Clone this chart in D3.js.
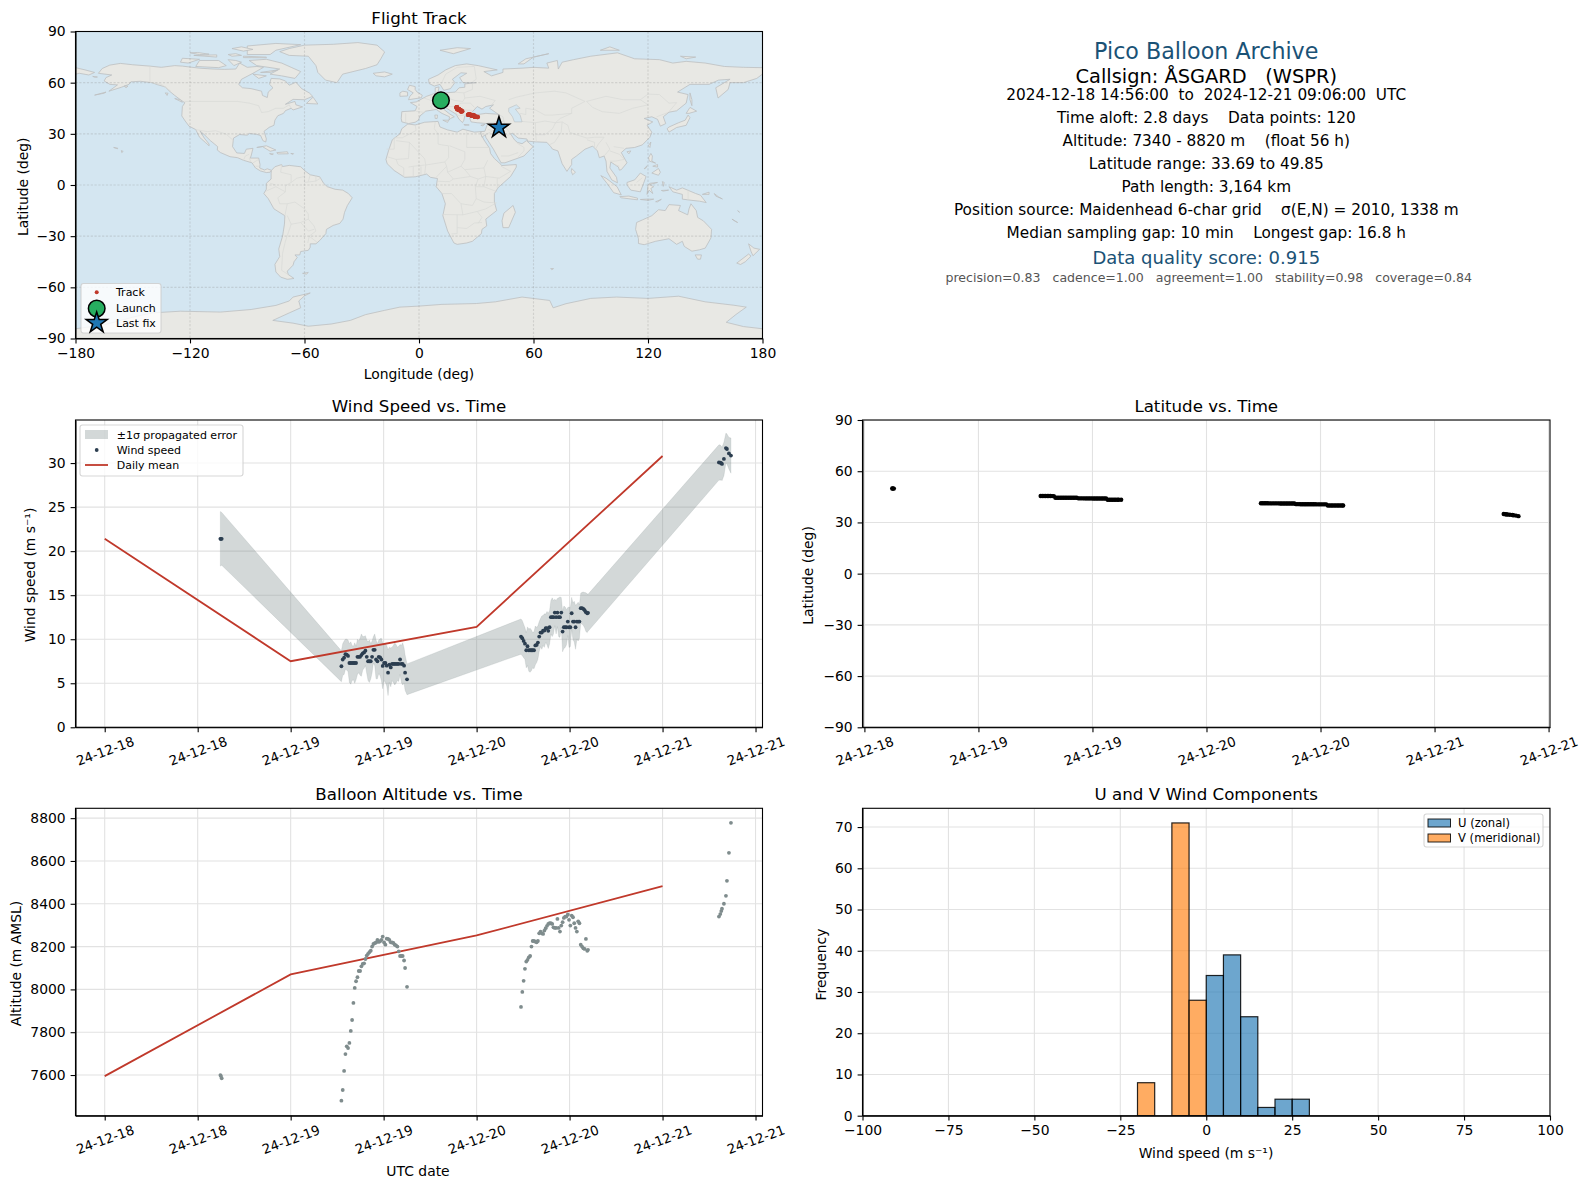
<!DOCTYPE html>
<html><head><meta charset="utf-8">
<script src="https://cdn.jsdelivr.net/npm/d3@7/dist/d3.min.js"></script>
<style>
html,body{margin:0;padding:0;background:#fff}
svg{display:block}
text{font-family:"DejaVu Sans",sans-serif}
</style></head><body><div id="chart"></div>
<script>
// ---------- flight data ----------
const hoursSinceStart = [
 14.93,15.00,15.10,
 30.55,30.72,30.90,31.07,31.24,31.41,31.58,31.76,31.93,32.10,
 32.27,32.44,32.62,32.79,32.96,33.13,33.30,33.48,33.65,33.82,
 33.99,34.16,34.34,34.51,34.68,34.85,35.02,35.20,35.37,35.54,
 35.71,35.88,36.06,36.23,36.40,36.57,36.74,36.92,37.09,37.26,
 37.43,37.60,37.78,37.95,38.12,38.29,38.46,38.64,38.77,39.02,
 53.73,53.90,54.07,54.24,54.41,54.57,54.74,54.91,55.08,55.24,
 55.41,55.58,55.75,55.91,56.08,56.25,56.42,56.58,56.75,56.92,
 57.09,57.25,57.42,57.59,57.76,57.92,58.09,58.26,58.43,58.59,
 58.76,58.93,59.10,59.26,59.43,59.60,59.77,59.93,60.10,60.27,
 60.44,60.60,60.77,60.94,61.11,61.27,61.44,61.61,61.78,61.94,
 62.11,62.28,62.38,
 79.28,79.45,79.58,79.67,79.92,80.18,80.31,80.57,80.83];
const windSpeed = [
 21.4,21.4,21.4,
 6.93,7.7,7.9,8.3,8.25,8.1,7.3,7.3,7.3,7.3,
 7.3,7.3,8.0,8.0,8.0,8.2,8.4,8.5,8.7,8.0,
 7.5,7.5,7.5,8.0,8.8,8.8,7.7,7.5,8.0,7.95,
 7.7,6.97,7.3,7.3,7.0,6.2,7.1,6.8,7.2,7.2,
 7.2,7.2,7.2,7.2,7.7,7.2,7.2,7.0,6.2,5.45,
 10.3,10.11,9.81,9.5,8.75,9.2,8.75,8.75,8.75,8.75,
 8.75,9.3,9.35,9.62,10.3,10.75,10.75,10.98,10.98,11.25,
 11.25,10.95,11.36,12.5,12.5,12.5,13.03,12.5,13.03,12.5,
 12.5,13.03,10.87,11.36,11.36,11.36,12.0,11.36,11.36,12.95,
 12.0,12.0,11.36,12.0,12.0,12.0,13.52,13.52,13.45,13.3,
 13.07,12.95,13.0,
 30.07,30.05,30.0,29.9,30.47,31.7,31.6,31.1,30.85];
const windSigma = [
 3.1,3.05,3.0,
 1.75,1.8,1.9,1.7,1.75,1.8,2.2,2.4,2.0,1.9,
 2.3,1.9,2.0,1.8,2.1,2.4,1.9,1.8,1.7,1.9,
 2.2,2.4,2.0,1.8,1.5,1.8,2.2,2.0,1.9,2.1,
 2.4,2.6,2.0,2.2,2.3,2.6,2.0,2.2,1.9,2.1,
 2.4,2.2,1.9,2.0,1.7,2.1,2.4,2.0,2.0,1.75,
 2.0,2.0,1.9,1.8,2.0,2.2,2.4,2.5,2.3,2.0,
 2.1,2.2,2.0,1.9,1.7,1.6,1.9,1.7,1.9,1.6,
 1.9,2.0,1.9,1.9,2.2,1.9,1.5,1.9,1.6,2.2,
 2.3,1.7,2.3,2.4,2.3,2.0,1.6,2.3,2.2,1.8,
 2.1,2.3,2.5,2.0,2.2,1.9,1.7,1.8,1.9,2.0,
 2.2,2.2,2.1,
 2.0,2.0,1.9,1.9,1.9,1.7,1.7,1.8,2.0];
const altitudeM = [
 7600,7595,7585,
 7480,7530,7619,7698,7734,7726,7750,7806,7857,7937,
 8007,8038,8057,8086,8086,8108,8119,8122,8142,8158,
 8166,8174,8181,8200,8212,8216,8219,8231,8222,8225,
 8231,8247,8219,8209,8237,8236,8231,8220,8219,8217,
 8209,8205,8200,8178,8156,8156,8156,8135,8100,8012,
 7918,7988,8040,8096,8130,8138,8150,8156,8200,8226,
 8226,8223,8220,8226,8262,8270,8262,8259,8275,8286,
 8297,8306,8309,8309,8306,8290,8287,8287,8329,8287,
 8270,8298,8314,8334,8340,8340,8350,8325,8298,8345,
 8337,8309,8287,8270,8318,8309,8209,8200,8192,8189,
 8236,8180,8185,
 8340,8352,8366,8377,8400,8437,8507,8638,8778];
const latitudeDeg = [
 49.85,49.85,49.81,
 45.46,45.46,45.46,45.44,45.44,45.44,45.44,45.42,45.42,44.5,
 44.5,44.46,44.46,44.46,44.44,44.44,44.44,44.44,44.42,44.42,
 44.42,44.42,44.42,44.1,44.1,44.1,44.1,44.08,44.08,44.08,
 44.08,44.08,44.06,44.06,44.06,44.06,44.06,44.04,44.04,44.04,
 44.04,43.3,43.3,43.3,43.27,43.27,43.27,43.25,43.25,43.25,
 41.21,41.21,41.21,41.21,41.21,41.17,41.17,41.17,41.17,41.17,
 41.17,41.17,41.13,41.13,41.13,41.13,41.13,41.13,41.13,41.08,
 41.08,41.08,40.71,40.71,40.71,40.67,40.67,40.67,40.67,40.67,
 40.63,40.63,40.63,40.63,40.63,40.58,40.58,40.58,40.58,40.58,
 40.58,40.58,39.96,39.96,39.96,39.96,39.96,39.92,39.92,39.92,
 39.92,39.88,39.88,
 34.92,34.83,34.71,34.63,34.5,34.33,34.21,34.0,33.69];
const longitudeDeg = [
 11.46,11.5,11.54,
 19.62,19.62,19.71,19.79,19.79,19.88,19.88,19.96,20.04,20.04,
 20.13,20.13,20.21,20.29,20.29,20.38,20.46,20.46,20.54,20.63,
 20.63,20.71,20.79,20.79,20.88,20.96,20.96,21.04,21.13,21.13,
 21.21,21.29,21.29,21.38,21.46,21.46,21.54,21.63,21.63,21.71,
 21.79,21.79,21.88,21.96,21.96,22.04,22.13,22.29,22.46,22.71,
 25.71,25.79,25.88,25.96,26.04,26.13,26.21,26.29,26.38,26.46,
 26.54,26.63,26.71,26.79,26.88,26.96,27.04,27.13,27.21,27.29,
 27.38,27.46,27.54,27.63,27.71,27.79,27.88,27.96,28.04,28.13,
 28.21,28.29,28.38,28.46,28.54,28.63,28.71,28.79,28.88,28.96,
 29.04,29.13,29.21,29.29,29.38,29.46,29.54,29.71,29.88,30.04,
 30.29,30.54,30.88,
 39.9,40.1,40.4,40.6,40.9,41.1,41.4,41.7,41.9];
const launchLonLat = [11.5, 49.6];
const lastFixLonLat = [41.9, 33.69];

const dailyHours = [0, 24, 48, 72];
const dailyMeanWind = [21.4, 7.5, 11.4, 30.8];
const dailyMeanAltitude = [7595, 8070, 8252, 8483];

const histBinStarts = [-20, -15, -10, -5, 0, 5, 10, 15, 20, 25];
const histBinWidth = 5;
const histU = [0, 0, 0, 0, 34, 39, 24, 2, 4, 4];
const histV = [8, 0, 71, 28, 0, 0, 0, 0, 0, 0];

// ---------- tick labels ----------
const timeTicksLeft = [0, 12, 24, 36, 48, 60, 72, 84];
const timeLabelsLeft = ["24-12-18","24-12-18","24-12-19","24-12-19","24-12-20","24-12-20","24-12-21","24-12-21"];
const timeTicksRight = [12, 24, 36, 48, 60, 72, 84];
const timeLabelsRight = ["24-12-18","24-12-19","24-12-19","24-12-20","24-12-20","24-12-21","24-12-21"];
const lonTicks = [-180, -120, -60, 0, 60, 120, 180];
const latTicks = [-90, -60, -30, 0, 30, 60, 90];
const windTicks = [0, 5, 10, 15, 20, 25, 30];
const altTicks = [7600, 7800, 8000, 8200, 8400, 8600, 8800];
const histXTicks = [-100, -75, -50, -25, 0, 25, 50, 75, 100];
const histYTicks = [0, 10, 20, 30, 40, 50, 60, 70];

// ---------- text ----------
const infoLines = [
 "Pico Balloon Archive",
 "Callsign: ÅSGARD   (WSPR)",
 "2024-12-18 14:56:00  to  2024-12-21 09:06:00  UTC",
 "Time aloft: 2.8 days    Data points: 120",
 "Altitude: 7340 - 8820 m    (float 56 h)",
 "Latitude range: 33.69 to 49.85",
 "Path length: 3,164 km",
 "Position source: Maidenhead 6-char grid    σ(E,N) = 2010, 1338 m",
 "Median sampling gap: 10 min    Longest gap: 16.8 h",
 "Data quality score: 0.915",
 "precision=0.83   cadence=1.00   agreement=1.00   stability=0.98   coverage=0.84"
];

// ---------- world outline, lon/lat ----------
const landPolygons = [
 // North America
 [[-168,65.5],[-166,68.3],[-162,70.3],[-156.5,71.3],[-150,70.5],[-141,69.7],[-135,69],[-128,70],[-124,69.7],[-115,68.5],[-108,68],[-102,67.8],[-96,68],[-94,71.5],[-90,69],[-85,69.5],[-81.5,69],[-87,65.5],[-93,62],[-94.5,59],[-92.5,57],[-88,56.5],[-82.5,55],[-82,52.5],[-79.5,51.3],[-79,54.5],[-76.5,57],[-78.3,59],[-77.5,62.5],[-73,62.2],[-70,61],[-68,58.5],[-64.5,60.3],[-61.5,56.5],[-57.5,54],[-55.7,52],[-60,50],[-66,50.2],[-70,47.3],[-65,49],[-64.5,47],[-61,45.8],[-66,44],[-67,45],[-70,43.6],[-71,42],[-74,40.6],[-75.5,38],[-76,35],[-78.5,33.8],[-81.2,31.5],[-80,27],[-80.3,25.2],[-81.8,26],[-83,29],[-85,29.7],[-89,30.2],[-90,29.2],[-94,29.6],[-97.2,27.5],[-97.7,22.5],[-95.5,18.8],[-91.5,18.5],[-90.5,21],[-87,21.5],[-88,17],[-88.5,15.8],[-84,15.8],[-83.3,12],[-83.5,10],[-81,8.8],[-79.5,9.5],[-77.3,8.6],[-78,7.5],[-80,7.3],[-83,8.2],[-85.7,10],[-87.5,13],[-92,14.5],[-95,16],[-99,16.6],[-104,19],[-105.7,20.5],[-105.5,22.5],[-109.3,26],[-112.5,29.5],[-114.8,31.7],[-112.5,27.5],[-110,24],[-110,23],[-112,25],[-115,28],[-117,32.5],[-120.5,34.5],[-122.5,37.5],[-124.3,40.5],[-124,46],[-122.7,48.2],[-125,50],[-128,52.5],[-130.5,54.8],[-133,57.5],[-137,58.8],[-140,60],[-146,60.8],[-151,60.5],[-152,59],[-156,57.3],[-162.5,55],[-158,58.7],[-162,59],[-165,61],[-164,63],[-161,64.5]],
 // Greenland
 [[-73,78.2],[-68,80],[-60,82],[-45,82.5],[-32,83.5],[-22,82],[-18,78],[-20,74],[-22,70.5],[-28,68.3],[-40,65],[-43,60],[-49,61.5],[-53,66],[-54,70],[-58,75.5],[-68,76]],
 // Arctic Canada
 [[-80,73.7],[-72,71.5],[-67,69],[-62,66.5],[-65,62.5],[-72,64],[-78,65],[-73,68],[-85,70],[-89,73]],
 [[-117,69.5],[-105,68.8],[-101,70],[-105,73],[-115,73]],
 [[-125,72],[-124,74.3],[-115,73.7],[-121,71.5]],
 [[-90,76.5],[-78,76.5],[-75,79],[-62,82.3],[-75,83],[-90,81.5]],
 [[-92,75.5],[-80,75],[-80,74.6],[-92,74.7]],
 [[-118,76],[-106,75],[-106,76.3]],
 [[-87,65],[-80,64],[-84,62.5]],
 [[-100,73.5],[-96,73],[-93,72],[-97,70]],
 [[-98,80],[-93,81],[-87,79.5],[-92,78.5]],
 [[-120,77.5],[-115,76.5],[-110,76.7],[-116,77.7]],
 [[-100,76.5],[-96,77],[-93,76],[-98,75.5]],
 [[-83,66],[-74,67.5],[-78,66]],
 [[-59,47.8],[-55.5,51.5],[-53,47.5]],
 [[-128,50.7],[-124,48.5],[-125,50]],
 [[-133,54],[-131.5,53.8],[-132,52.5]],
 // Caribbean, Pacific
 [[-85,22],[-80,23],[-75,20.5],[-78,19.8],[-82,22.5]],
 [[-74.5,19],[-69,19.5],[-68.5,18.3],[-74,18.2]],
 [[-78.3,18.4],[-76.3,18.2],[-77,17.8]],
 [[-67.2,18.5],[-65.7,18.4],[-66,18]],
 [[-156,20.2],[-155,19.7],[-155.8,19]],
 [[-160,22],[-157.7,21.5],[-158,21.3]],
 [[-170,52.7],[-164,54.5],[-165,53.8]],
 [[-154.5,58],[-152.5,58],[-153.5,57]],
 [[-171,63.7],[-168.5,63.3],[-170,63.2]],
 // South America
 [[-77.3,8.6],[-75.5,10.7],[-72,12],[-71.5,10.8],[-68,11.5],[-62,10.7],[-60,8.5],[-57,6],[-52,4.8],[-50,1],[-48,-1],[-44,-2.5],[-40,-3],[-37,-5],[-35,-7.5],[-37.5,-12],[-39,-16],[-39.8,-20],[-41.5,-22.5],[-45,-23.7],[-48.5,-26],[-48.8,-28.5],[-52,-32.5],[-54,-34.5],[-57,-34.5],[-57,-36.5],[-58,-38.3],[-62,-39],[-62.5,-41],[-65,-41],[-63.8,-42.5],[-65.5,-45],[-66,-47],[-69,-50.5],[-68.5,-52.5],[-65.5,-54.8],[-69,-55.3],[-72.5,-54],[-75,-51],[-75.5,-46.5],[-73,-42],[-73.5,-37.5],[-71.5,-30],[-70.5,-23],[-70.3,-18],[-76,-14],[-79,-8],[-81.3,-5],[-80,-2.5],[-80,1],[-77.5,3.5],[-77.5,7]],
 [[-61,-51.8],[-58,-51.3],[-59,-52.3]],
 // Africa
 [[-5.8,35.8],[-2,35.2],[3,36.8],[10,37.3],[11,34],[15,32.3],[20,31],[23,32.7],[29,31],[32.5,31.3],[32.5,30],[34,26.5],[37,21.5],[37.5,18.5],[39.5,15.5],[43,12],[43.3,11.4],[51,12],[51,10.5],[48,5],[41.5,-1.5],[39.5,-5],[39.5,-10],[40.7,-15],[35,-20],[35.5,-24],[33,-26],[32.7,-28.5],[28,-33],[25,-34],[20,-34.8],[18.3,-34],[15,-27],[12.5,-18],[13.8,-11],[12,-5],[9,-1],[9.7,3.8],[6,4.5],[4,6.4],[-2,4.8],[-7.5,4.5],[-13,8.5],[-16.7,12.5],[-17.3,15],[-16,20],[-14,26.5],[-10,30],[-9,33]],
 // Eurasia
 [[-9,37],[-9.3,39],[-9,43],[-2,43.5],[-1,46],[-4.5,48.3],[-1.5,48.7],[1.5,50.5],[4,52],[8.5,53.8],[8.5,57],[10.5,57.5],[10,54.5],[14,54],[19,54.5],[21,57],[24,57.3],[24,59.3],[30,60],[23,60],[21.3,63],[25,65.5],[22,65.8],[17.5,62],[18.8,60],[16.5,56.5],[13,55.5],[11,59],[8,58],[5.3,59.5],[5,62],[10,64.5],[14,67.5],[19,70],[25,71],[31,70],[41,67.5],[34,66.5],[38,64],[44,66],[44,68],[54,68.5],[60,69],[68,68.5],[67,71.5],[72.5,73],[73,68],[75,72],[81,73.5],[90,75.5],[104,77.5],[113,74],[126,73.5],[133,71.5],[140,72.5],[150,71.5],[160,69.5],[170,69],[180,68.8],[180,65],[177,62.5],[170,60],[163,60],[162,56],[156.7,51],[155.5,57],[163,62],[157,61.5],[152,59],[142,59],[135.5,54.5],[141,53],[140,48],[135,43.5],[131,42.7],[128,40],[129.3,36],[126.5,34.5],[125,38.5],[122,40],[118,39],[122.5,37],[119.5,35],[122,31],[121,28],[117,23.5],[113,22],[108.5,21.5],[106,19],[109,13],[106,9],[105,8.7],[104.5,10.5],[100.5,13.5],[100,10],[103.5,4.5],[104,1.3],[101,3],[98.5,8],[98,14],[97,17],[94.5,16],[93.5,20],[91,22.8],[87,21],[82.5,17],[80,15],[80,12],[77.5,8],[75,12.5],[72.8,20],[70,21],[69,22.5],[67,25],[61,25.3],[57,25.7],[56.5,27],[52,27.5],[49,30.3],[48,30],[50,26.5],[51.5,25],[54,24.2],[56.3,26],[59.8,22.5],[55,17],[45,13],[43,13],[39,21],[35,28],[34.8,29.5],[33,28],[32.5,30],[32.5,31.3],[34.5,31.5],[36,36],[30.5,36.5],[27.3,37],[26.5,39.5],[29,41],[35,42],[41.5,41.5],[37,45],[39,47],[35,46],[33,44.5],[30.5,46],[28,43],[29,41.2],[26,40.8],[24,40.5],[23.5,38],[22.8,36.6],[21,38.5],[19.5,41.5],[14,45.3],[12.3,45],[16,41.7],[18.5,40],[16.5,39],[15.7,38],[16,40],[12,42],[9,44.3],[3.5,43.3],[0.5,40.5],[-0.3,38],[-2,36.8],[-5.5,36]],
 [[-180,68.8],[-175,67.5],[-170,66],[-173,64.5],[-178,65.5],[-180,65]],
 // Europe and Asia islands
 [[-5.5,50],[1.3,51.2],[1.7,52.7],[-1,54.5],[-2,56],[-2,57.7],[-5,58.5],[-6,56],[-3,54],[-4.8,52]],
 [[-10,52],[-6,52.2],[-6,54.5],[-8.5,55],[-10,54]],
 [[-24,65.5],[-18,66.3],[-14,65],[-18,63.4],[-22.5,64]],
 [[11,79],[20,80.5],[27,80],[18,77]],
 [[52,71],[56,74],[68,77],[60,75],[55,71]],
 [[95,79],[105,79],[100,81]],
 [[137,75.5],[145,75],[140,74]],
 [[12.5,38],[15.5,38],[15,36.7]],
 [[8.3,41],[9.7,41],[9.5,39],[8.5,39]],
 [[23.5,35.5],[26.3,35.2],[24,35]],
 [[32.4,35],[34.5,35.6],[33.5,34.7]],
 [[142,54],[143,50],[143,46.5],[142,50]],
 [[130,33],[131,31],[135,33.7],[140,35],[142,39.5],[141,41],[139.5,38],[136,36.5],[131,34]],
 [[140,42],[142,45.5],[145.5,43.3],[141.5,42]],
 [[120.2,23],[121.5,25.2],[121,22]],
 [[109,19.5],[111,20],[110,18.3]],
 [[120.3,16],[121.5,18.5],[122.3,17],[122,14],[124,12.8],[120.7,14]],
 [[122,7],[125.5,9.7],[126.5,7.5],[125.5,5.7]],
 [[118,9.5],[119.5,11.3],[119,10]],
 [[122.5,11],[125,12],[125,10.5]],
 [[80,9.7],[82,7.5],[80.5,6],[79.8,8]],
 [[109,1.5],[113,3],[116,7],[119,5],[117.7,1],[116,-4],[111,-3],[109,0]],
 [[95.3,5.5],[98,4],[103.8,-1],[106,-5.8],[102,-4.5],[98.5,1]],
 [[105.2,-6.8],[110,-6.5],[114.5,-7.7],[114.5,-8.7],[106,-7.5]],
 [[119.5,-5.5],[120,0],[121,1],[125,1.5],[120.8,0.2],[123,-1],[121.5,-2],[122.5,-5],[120.5,-3]],
 [[116,-8.5],[119,-8.3],[123,-8.3],[120,-9]],
 [[124,-9.8],[127,-8.4],[125,-9.9]],
 [[127.5,2],[128.5,1.5],[128,-0.8]],
 [[127,-3.2],[130.8,-3],[128,-3.6]],
 [[131,-1],[135,-3],[138,-1.7],[145,-5],[147.5,-6],[150.5,-10.3],[147,-9.5],[143,-9],[138,-8.3],[138,-5.5],[133,-4]],
 [[148.5,-5.5],[152,-4.2],[152,-5.5]],
 [[154.7,-5],[157,-7],[159,-8.2],[155.5,-6.5]],
 [[164,-20],[167,-22],[166,-21.5]],
 [[167,-15],[168,-16],[167.3,-15.5]],
 // Indian Ocean, Australasia
 [[49.3,-12],[50.5,-16],[47,-25],[44,-25],[43.5,-21],[44.5,-16.5]],
 [[69,-49],[70.5,-49],[69.6,-49.7]],
 [[114,-22],[113.5,-26],[115,-31.5],[115,-34.3],[118,-35],[124,-33],[131,-31.5],[135,-34.8],[138,-33],[139,-36],[143,-38.8],[147,-38],[150,-37],[153,-31],[153.3,-26],[149,-21],[146,-19],[145.3,-15],[142.5,-11],[141.5,-14],[140.8,-17.5],[136,-15],[137,-12],[131,-11.5],[129,-15],[125.5,-14.5],[122,-18],[117,-20.5]],
 [[144.7,-41],[148,-41],[147.5,-43.5],[146,-43.5]],
 [[172.7,-34.5],[175.5,-37],[178.5,-37.7],[175,-41.5],[174,-39]],
 [[172.7,-40.5],[174,-41.7],[171,-45],[168.5,-46.6],[166.5,-45.8]],
 // Antarctica
 [[-180,-84.3],[-165,-82],[-150,-77.5],[-140,-75],[-125,-74],[-104,-74.5],[-88,-73],[-75,-70.6],[-68,-68],[-66,-65.7],[-57,-63.3],[-60,-65],[-63,-68],[-62,-72],[-68,-75],[-76.6,-79.4],[-66,-81],[-58,-82.8],[-46,-81.5],[-36,-79.4],[-28,-76],[-18,-73.5],[-10,-71.6],[0,-71],[12,-70],[30,-69.5],[40,-68.5],[54,-65.7],[68.5,-67.7],[70.3,-72],[77,-69.6],[90,-66.5],[103.5,-65.7],[120,-66.5],[136,-65.2],[150,-68.5],[165,-70.5],[171.5,-71.6],[166,-76],[161,-80.5],[170,-83],[180,-84.3],[180,-90],[-180,-90]]
];
const inlandSeas = [
 [[47,45],[51,47],[53,45],[50.5,44.5],[53,41],[54,37],[50,37],[49,40],[47,43]]
];
const borderLines = [
 [[-141,69.7],[-141,60.3],[-135,59],[-130,55]],
 [[-123,49],[-95,49],[-89,48],[-84,46.5],[-82.5,42.5],[-79,43],[-75,45],[-71,45],[-68,47],[-67,45]],
 [[-117,32.5],[-111,31.3],[-106.5,31.8],[-101,29.8],[-97.2,26]],
 [[-92,14.5],[-91,17],[-89,18]],[[-89,15.8],[-88,13.3]],[[-84,15],[-87,13]],[[-85.7,11],[-83.5,11]],[[-83,8.2],[-82.7,9.5]],
 [[-72,12],[-72.5,7.5],[-67,6],[-67,1.5]],
 [[-51.7,4],[-54,2.3],[-60,1.5],[-60,5],[-64,4],[-67,1.5],[-70,-0.5],[-70,-4],[-74,-7.5],[-73,-11],[-69,-11],[-65,-10],[-60,-14],[-58,-17],[-58,-20],[-55,-24],[-54,-27],[-57.5,-30],[-53.5,-33.5]],
 [[-60,8],[-60,5]],[[-57,6],[-58,2]],[[-54,5.5],[-54,2.3]],
 [[-80,-3.5],[-75,-1],[-70,-4]],[[-78,1],[-75,0]],
 [[-70.3,-18],[-69,-11]],[[-69,-18],[-67,-23],[-70,-33],[-71.5,-40],[-72,-50],[-68.5,-52.5]],
 [[-67,-23],[-62,-22],[-58,-20]],[[-62,-22],[-58,-27],[-55,-26]],[[-58.3,-34],[-57.5,-30]],
 [[-2,35],[-1.5,32],[-8.7,27.7],[-13,27.7]],[[8.5,37],[8,33],[10,30]],[[10,30],[10,24],[12,23.5]],
 [[25,31.5],[25,22]],[[25,22],[37,22]],[[16,23],[24,19.5],[24,15]],
 [[12,23.5],[15.5,23],[15.5,16],[13.5,13.5],[3.5,11.7],[3,15.3],[-5,25],[-12,26]],
 [[-17,21],[-13,21],[-13,27.7]],[[-16.5,16.5],[-12,15],[-5.5,15.5],[-5,25]],[[-12,15],[-11,12],[-8,10],[-8,4.6]],
 [[-5.5,10.5],[-3,11],[3,11.7]],[[-3,11],[-3,5]],[[1,6],[1,11]],
 [[3,6.3],[3.5,11.7]],[[13.5,13.5],[14.5,11],[9,4.5]],
 [[24,15],[22,11],[24,9]],[[24,9],[34,10],[35,5],[31,3.5],[27,5],[24,9]],
 [[36,14.5],[34,10]],[[35,5],[42,4],[48,8],[43,11]],
 [[12,-5],[17,-5],[22,-11],[28,-12],[30,-8],[29.5,-1],[31,3.5]],
 [[18,3.5],[27,5]],[[18,3.5],[16,2],[14,2],[9.7,2.2]],[[15,7.5],[18,3.5]],[[14.5,11],[15,7.5]],[[22,11],[15,7.5]],
 [[12,-17.3],[23,-17.5],[22,-11]],[[20,-17.5],[20,-28.5],[17,-28.7]],[[20,-25],[25,-25.5],[29,-22.3],[33,-22]],
 [[31,-22.5],[33,-19],[30.5,-15.5],[35,-14],[40.5,-10.5]],[[29.5,-1],[34,-1],[41,-4]],[[30,-8],[34,-10],[40.5,-10.5]],
 [[34,-1],[35,5]],[[41,-2],[41,4]],[[23,-17.5],[30.5,-15.5]],
 [[-1.7,43.3],[3,42.5]],[[-7,42],[-7,37]],[[2.5,51],[8,49],[7.5,47.5],[6,46],[7.5,43.8]],
 [[7,53.5],[6,51],[8,49],[7.5,47.6],[13,47.5],[12.5,50.3],[15,51],[14.3,54]],[[9,54.8],[9.5,54.8]],
 [[15,51],[19,49.5],[23,49],[24,51],[23.5,54],[19,54.4]],[[23.5,54],[28,56],[28,59.5]],[[24,51],[32,52],[40,49.5],[38,47]],
 [[22,48],[27,48],[29,45.5]],[[22,44],[28,43.8]],[[13.5,46],[19,46],[22,48]],[[19,46],[19.5,42],[21,40.5],[26,41.5]],[[22,44],[23,41.5]],
 [[26,41.8],[28,42]],[[36,36.5],[42.5,37],[44.5,37.5],[44,40],[41.5,41.5]],[[36,32.5],[39,32],[42,34.5],[42.5,37]],
 [[35,29.5],[39,32],[47,29]],[[44.5,37.5],[46,33],[48,30]],[[61,36.5],[61,31],[61.5,25.3]],[[52,16.5],[55,20],[55,22],[51.5,24.5]],[[43,17],[47,17],[52,19]],
 [[61,29.5],[66,29.5],[70,33],[71.5,36.5],[75,37]],[[68.5,23.7],[71,25],[74.5,31],[75,37],[78,35],[79,31],[81,30],[88,27.5],[92,28],[97,28],[94,24],[92.5,21]],
 [[88,26.5],[92,25],[92,21.5]],[[47,50],[51,51.5],[61,54],[71,55],[77,54],[87,49]],[[53,42],[56,41.3],[56,45],[61,44],[66,41],[70,41],[80,42],[80,45],[87,49]],
 [[54,37.3],[61,36.5],[66,37.5],[71.5,36.5],[74,39],[80,42]],[[87.8,49],[98,52],[107,50],[116,50],[120,47],[112,45],[105,42],[96,43],[91,45.5],[87.8,49]],
 [[116,50],[120,53.3],[126,53],[131,48],[135,48.3],[131,43]],[[124.5,40],[130.5,42.5]],[[102,22.5],[107.5,21.5]],[[98,25],[100,21],[97,17]],
 [[100,20],[105,18],[107.5,15],[103,14],[100,14]],[[102.5,12],[105,11]],[[29,69.5],[30,62],[28,60.5]],[[11.5,59],[14,65],[20,69]],[[20,69],[29,69.5]],
 [[141,-2.5],[141,-9]],[[114,1.5],[117,4.2]]
];

// ---------- layout ----------
const W = 1589, H = 1189;
const colL = [75.5, 762.5], colR = [862.5, 1550];
const row1 = [31.5, 338.5], row2 = [420, 727.3], row3 = [808.3, 1115.7];
const FS = 13.9;
const infoY = [50.5, 76, 94.5, 117.5, 140.5, 163.5, 186.5, 209.5, 232.5, 257, 277.5];
const infoSize = [22.2, 19.4, 15.3, 15.3, 15.3, 15.3, 15.3, 15.3, 15.3, 18, 12.55];
const infoColor = ["#1a5276","#000","#000","#000","#000","#000","#000","#000","#000","#1a5276","#555"];
const infoDx = [0,0,0,0,0,0,0,0,0,0,2.5];
const svg = d3.select("#chart").append("svg").attr("width", W).attr("height", H).attr("viewBox",`0 0 ${W} ${H}`);
svg.append("rect").attr("width", W).attr("height", H).attr("fill", "#fff");
let clipN = 0;

function panel(xr, yr, xDomain, yDomain, title){
  const g = svg.append("g");
  const x = d3.scaleLinear().domain(xDomain).range(xr);
  const y = d3.scaleLinear().domain(yDomain).range([yr[1], yr[0]]);
  const id = "clip" + (++clipN);
  svg.append("clipPath").attr("id", id).append("rect").attr("x", xr[0]).attr("y", yr[0]).attr("width", xr[1]-xr[0]).attr("height", yr[1]-yr[0]);
  const plot = g.append("g").attr("clip-path", `url(#${id})`);
  g.append("text").attr("x",(xr[0]+xr[1])/2).attr("y",yr[0]-8).attr("text-anchor","middle").attr("font-size",16.67).attr("fill","#000").text(title);
  return {g, x, y, plot, xr, yr};
}
function grid(p, xTicks, yTicks, color, dash, op){
  const gg = p.plot.append("g").attr("stroke", color).attr("stroke-width", 1.1).attr("stroke-opacity", op);
  if (dash) gg.attr("stroke-dasharray", dash);
  gg.selectAll(".v").data(xTicks).join("line").attr("x1",d=>p.x(d)).attr("x2",d=>p.x(d)).attr("y1",p.yr[0]).attr("y2",p.yr[1]);
  gg.selectAll(".h").data(yTicks).join("line").attr("y1",d=>p.y(d)).attr("y2",d=>p.y(d)).attr("x1",p.xr[0]).attr("x2",p.xr[1]);
}
function styleAxis(a){
  a.selectAll("path.domain").attr("stroke","#000").attr("stroke-width",1.1);
  a.selectAll(".tick line").attr("stroke","#000").attr("stroke-width",1.1);
  a.selectAll("text").attr("font-size",FS).attr("font-family",'"DejaVu Sans",sans-serif').attr("fill","#000");
}
function axes(p, xTicks, yTicks, xFmt, yFmt, rotate){
  const ax = p.g.append("g").attr("transform",`translate(0,${p.yr[1]})`)
    .call(d3.axisBottom(p.x).tickValues(xTicks).tickSize(4.9).tickSizeOuter(0).tickPadding(4.9).tickFormat(xFmt));
  const ay = p.g.append("g").attr("transform",`translate(${p.xr[0]},0)`)
    .call(d3.axisLeft(p.y).tickValues(yTicks).tickSize(4.9).tickSizeOuter(0).tickPadding(4.9).tickFormat(yFmt));
  styleAxis(ax); styleAxis(ay);
  if (rotate) ax.selectAll("text").attr("y",0).attr("dy",0).attr("dominant-baseline","central").attr("text-anchor","middle").attr("font-size",13.3).attr("transform","translate(0,24) rotate(-20)");
  p.g.append("rect").attr("x",p.xr[0]).attr("y",p.yr[0]).attr("width",p.xr[1]-p.xr[0]).attr("height",p.yr[1]-p.yr[0]).attr("fill","none").attr("stroke","#000").attr("stroke-width",1.1);
}
function label(text, x, y, rot){
  const t = svg.append("text").attr("font-size",FS).attr("fill","#000").attr("text-anchor","middle").attr("dominant-baseline","central").text(text);
  if (rot) t.attr("transform",`translate(${x},${y}) rotate(-90)`); else t.attr("x",x).attr("y",y);
}
const minusFmt = d => String(d).replace("-", "\u2212");
const legendBox = (x,y,w,h) => svg.append("rect").attr("x",x).attr("y",y).attr("width",w).attr("height",h).attr("rx",2.5).attr("fill","#fff").attr("fill-opacity",0.8).attr("stroke","#ccc").attr("stroke-opacity",0.8).attr("stroke-width",1.1);
const legendText = (s,x,y,fs) => svg.append("text").attr("x",x).attr("y",y).attr("font-size",fs||11).attr("dominant-baseline","central").attr("fill","#000").text(s);
function starPath(r){
  const pts=[]; for(let i=0;i<10;i++){const a=-Math.PI/2+i*Math.PI/5, rr=i%2?r*0.382:r; pts.push([rr*Math.cos(a),rr*Math.sin(a)]);}
  return "M"+pts.map(p=>p.join(",")).join("L")+"Z";
}

// ---------- map ----------
const pm = panel(colL, row1, [-180,180], [-90,90], "Flight Track");
pm.plot.append("rect").attr("x",colL[0]).attr("y",row1[0]).attr("width",colL[1]-colL[0]).attr("height",row1[1]-row1[0]).attr("fill","#d4e6f1");
const geo = d3.line().x(d=>pm.x(d[0])).y(d=>pm.y(d[1]));
const closedPath = d => geo(d) + "Z";
pm.plot.append("g").selectAll("path").data(landPolygons).join("path").attr("d",closedPath).attr("fill","#e8e8e4").attr("stroke","#bcbfc0").attr("stroke-width",0.8).attr("stroke-linejoin","round");
pm.plot.append("g").selectAll("path").data(borderLines).join("path").attr("d",geo).attr("fill","none").attr("stroke","#d9dad7").attr("stroke-width",0.7);
pm.plot.append("g").selectAll("path").data(inlandSeas).join("path").attr("d",closedPath).attr("fill","#d4e6f1").attr("stroke","#bcbfc0").attr("stroke-width",0.6);
grid(pm, lonTicks, latTicks, "#888", "2.2,1.6", 0.25);
pm.plot.append("g").selectAll("circle").data(d3.range(hoursSinceStart.length)).join("circle")
  .attr("cx",i=>pm.x(longitudeDeg[i])).attr("cy",i=>pm.y(latitudeDeg[i])).attr("r",2.2).attr("fill","#c0392b");
pm.plot.append("circle").attr("cx",pm.x(launchLonLat[0])).attr("cy",pm.y(launchLonLat[1])).attr("r",8.3).attr("fill","#27ae60").attr("stroke","#000").attr("stroke-width",1.5);
pm.plot.append("path").attr("transform",`translate(${pm.x(lastFixLonLat[0])},${pm.y(lastFixLonLat[1])})`).attr("d",starPath(11)).attr("fill","#1f77b4").attr("stroke","#000").attr("stroke-width",1.5);
axes(pm, lonTicks, latTicks, minusFmt, minusFmt);
label("Longitude (deg)", 419, 373.5);
label("Latitude (deg)", 22.5, 186.8, true);
legendBox(81,283.5,80,49.5);
svg.append("circle").attr("cx",96.7).attr("cy",292.3).attr("r",2).attr("fill","#c0392b");
svg.append("circle").attr("cx",96.7).attr("cy",308.5).attr("r",8.3).attr("fill","#27ae60").attr("stroke","#000").attr("stroke-width",1.5);
svg.append("path").attr("transform","translate(96.7,323)").attr("d",starPath(11)).attr("fill","#1f77b4").attr("stroke","#000").attr("stroke-width",1.5);
legendText("Track",116,292);
legendText("Launch",116,308);
legendText("Last fix",116,323);

// ---------- info text ----------
svg.append("g").selectAll("text").data(infoLines).join("text")
  .attr("x",(d,i)=>(colR[0]+colR[1])/2+infoDx[i]).attr("y",(d,i)=>infoY[i]).attr("text-anchor","middle").attr("dominant-baseline","central")
  .attr("font-size",(d,i)=>infoSize[i]).attr("fill",(d,i)=>infoColor[i]).attr("xml:space","preserve").style("white-space","pre").text(d=>d);

// ---------- wind ----------
const idx = d3.range(hoursSinceStart.length);
const pw = panel(colL, row2, [-3.77,84.9], [0,34.89], "Wind Speed vs. Time");
grid(pw, timeTicksLeft, windTicks, "#e2e2e2", null, 1);
const band = d3.area().x(i=>pw.x(hoursSinceStart[i])).y0(i=>pw.y(windSpeed[i]-windSigma[i])).y1(i=>pw.y(windSpeed[i]+windSigma[i]));
pw.plot.append("path").attr("d",band(idx)).attr("fill","#7f8c8d").attr("fill-opacity",0.34).attr("stroke","#7f8c8d").attr("stroke-opacity",0.2).attr("stroke-width",0.8);
pw.plot.append("path").attr("d",d3.line().x((d,i)=>pw.x(dailyHours[i])).y(d=>pw.y(d))(dailyMeanWind)).attr("fill","none").attr("stroke","#c0392b").attr("stroke-width",1.8);
pw.plot.append("g").selectAll("circle").data(idx).join("circle").attr("cx",i=>pw.x(hoursSinceStart[i])).attr("cy",i=>pw.y(windSpeed[i])).attr("r",1.9).attr("fill","#2c3e50");
axes(pw, timeTicksLeft, windTicks, (d,i)=>timeLabelsLeft[i], d=>d, true);
label("Wind speed (m s⁻¹)", 29.5, 575, true);
legendBox(80,425,163,51);
svg.append("rect").attr("x",85).attr("y",430).attr("width",23).attr("height",9).attr("fill","#7f8c8d").attr("fill-opacity",0.34);
svg.append("circle").attr("cx",96.7).attr("cy",450).attr("r",1.9).attr("fill","#2c3e50");
svg.append("line").attr("x1",85).attr("x2",108).attr("y1",465).attr("y2",465).attr("stroke","#c0392b").attr("stroke-width",1.8);
legendText("±1σ propagated error",116.7,435);
legendText("Wind speed",116.7,450);
legendText("Daily mean",116.7,465.7);

// ---------- latitude ----------
const pl = panel(colR, row2, [11.8,84.15], [-90,90], "Latitude vs. Time");
grid(pl, timeTicksRight, latTicks, "#e2e2e2", null, 1);
pl.plot.append("g").selectAll("circle").data(idx).join("circle").attr("cx",i=>pl.x(hoursSinceStart[i])).attr("cy",i=>pl.y(latitudeDeg[i])).attr("r",2.2).attr("fill","#000");
axes(pl, timeTicksRight, latTicks, (d,i)=>timeLabelsRight[i], minusFmt, true);
label("Latitude (deg)", 807.5, 575.5, true);

// ---------- altitude ----------
const pa = panel(colL, row3, [-3.77,84.9], [7410,8846], "Balloon Altitude vs. Time");
grid(pa, timeTicksLeft, altTicks, "#e2e2e2", null, 1);
pa.plot.append("path").attr("d",d3.line().x((d,i)=>pa.x(dailyHours[i])).y(d=>pa.y(d))(dailyMeanAltitude)).attr("fill","none").attr("stroke","#c0392b").attr("stroke-width",1.8);
pa.plot.append("g").selectAll("circle").data(idx).join("circle").attr("cx",i=>pa.x(hoursSinceStart[i])).attr("cy",i=>pa.y(altitudeM[i])).attr("r",1.9).attr("fill","#7f8c8d");
axes(pa, timeTicksLeft, altTicks, (d,i)=>timeLabelsLeft[i], d=>d, true);
label("Altitude (m AMSL)", 16, 963.5, true);
label("UTC date", 418, 1171);

// ---------- histogram ----------
const ph = panel(colR, row3, [-100,100], [0,74.55], "U and V Wind Components");
grid(ph, histXTicks, histYTicks, "#e2e2e2", null, 1);
function bars(values, color){
  ph.plot.append("g").selectAll("rect").data(d3.range(values.length).filter(i=>values[i]>0)).join("rect")
    .attr("x",i=>ph.x(histBinStarts[i])).attr("width",i=>ph.x(histBinStarts[i]+histBinWidth)-ph.x(histBinStarts[i]))
    .attr("y",i=>ph.y(values[i])).attr("height",i=>ph.y(0)-ph.y(values[i]))
    .attr("fill",color).attr("fill-opacity",0.65).attr("stroke","#000").attr("stroke-opacity",0.85).attr("stroke-width",1.2);
}
bars(histU,"#1f77b4");
bars(histV,"#ff7f0e");
axes(ph, histXTicks, histYTicks, minusFmt, d=>d);
label("Wind speed (m s⁻¹)", 1206, 1153);
label("Frequency", 820.5, 964.5, true);
legendBox(1424,814,119,33);
svg.append("rect").attr("x",1428).attr("y",819).attr("width",22.5).attr("height",8).attr("fill","#1f77b4").attr("fill-opacity",0.65).attr("stroke","#000").attr("stroke-opacity",0.85);
svg.append("rect").attr("x",1428).attr("y",834).attr("width",22.5).attr("height",8).attr("fill","#ff7f0e").attr("fill-opacity",0.65).attr("stroke","#000").attr("stroke-opacity",0.85);
legendText("U (zonal)",1458,823,11.6);
legendText("V (meridional)",1458,838,11.6);
</script></body></html>
